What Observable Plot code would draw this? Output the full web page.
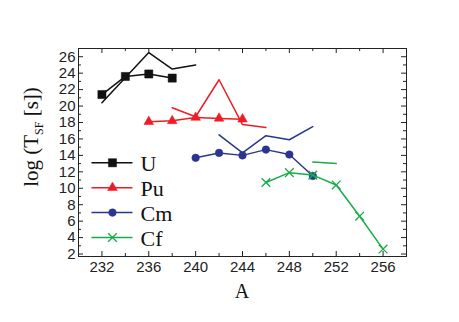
<!DOCTYPE html>
<html>
<head>
<meta charset="utf-8">
<script src="https://cdn.jsdelivr.net/npm/d3@7"></script>
<script src="https://cdn.jsdelivr.net/npm/@observablehq/plot@0.6"></script>
<style>
  html, body { margin: 0; padding: 0; background: white; }
</style>
</head>
<body>
<div id="chart"></div>
<script>
// ---- data ----
const seriesNames = ["U", "Pu", "Cm", "Cf"];
const seriesColors = ["#111111", "#ee1c24", "#2b3590", "#1aab4b"];
const seriesSymbols = ["square", "triangle", "circle", "times"];

// experimental points (with markers)
const U_A = [232, 234, 236, 238];
const U_exp = [21.4, 23.6, 23.9, 23.4];
const Pu_A = [236, 238, 240, 242, 244];
const Pu_exp = [18.1, 18.2, 18.6, 18.5, 18.4];
const Cm_A = [240, 242, 244, 246, 248, 250];
const Cm_exp = [13.7, 14.3, 14.0, 14.7, 14.1, 11.5];
const Cf_A = [246, 248, 250, 252, 254, 256];
const Cf_exp = [10.7, 11.9, 11.6, 10.4, 6.6, 2.6];

// calculated (plain lines)
const U_thA = [232, 236, 238, 240];
const U_th = [20.4, 26.5, 24.5, 25.0];
const Pu_thA = [238, 240, 242, 244, 246];
const Pu_th = [19.8, 18.7, 23.2, 17.75, 17.4];
const Cm_thA = [242, 244, 246, 248, 250];
const Cm_th = [16.5, 14.3, 16.4, 15.9, 17.5];
const Cf_thA = [250, 252];
const Cf_th = [13.2, 13.0];

const xTickLabels = [232, 236, 240, 244, 248, 252, 256];
const xMinor = [230, 234, 238, 242, 246, 250, 254, 258];
const yTickLabels = [2, 4, 6, 8, 10, 12, 14, 16, 18, 20, 22, 24, 26];
const yMinor = [3, 5, 7, 9, 11, 13, 15, 17, 19, 21, 23, 25, 27];

// ---- tables ----
function rows(As, vs, s) { return As.map((A, i) => ({A, v: vs[i], series: s})); }
const expSets = [rows(U_A, U_exp, "U"), rows(Pu_A, Pu_exp, "Pu"), rows(Cm_A, Cm_exp, "Cm"), rows(Cf_A, Cf_exp, "Cf")];
const thSets = [rows(U_thA, U_th, "U"), rows(Pu_thA, Pu_th, "Pu"), rows(Cm_thA, Cm_th, "Cm"), rows(Cf_thA, Cf_th, "Cf")];

// ---- layout ----
const W = 459, H = 322;
const mL = 78, mR = 53, mT = 48, mB = 66;
const pW = W - mL - mR, pH = H - mT - mB;
const xDomain = [230, 258], yDomain = [1.7, 27];

// legend (in data units inside the frame)
const legTop = 13.1, legStep = 3.03;
const legend = seriesNames.map((s, i) => ({series: s, y: legTop - i * legStep, x1: 231.15, x2: 234.65, xm: 232.9, xt: 235.3}));

const axisColor = "#222";
const marks = [
  Plot.frame({stroke: axisColor, strokeWidth: 1}),
  // ticks inward
  Plot.tickX(xTickLabels, {x: d => d, insetTop: pH - 5, stroke: axisColor}),
  Plot.tickX(xTickLabels, {x: d => d, insetBottom: pH - 5, stroke: axisColor}),
  Plot.tickX(xMinor, {x: d => d, insetTop: pH - 3, stroke: axisColor}),
  Plot.tickX(xMinor, {x: d => d, insetBottom: pH - 3, stroke: axisColor}),
  Plot.tickY(yTickLabels, {y: d => d, insetRight: pW - 5, stroke: axisColor}),
  Plot.tickY(yTickLabels, {y: d => d, insetLeft: pW - 5, stroke: axisColor}),
  Plot.tickY(yMinor.filter(d => d < 27), {y: d => d, insetRight: pW - 3, stroke: axisColor}),
  Plot.tickY(yMinor.filter(d => d < 27), {y: d => d, insetLeft: pW - 3, stroke: axisColor}),
  Plot.axisX({ticks: xTickLabels, tickSize: 0, tickPadding: 5, tickFormat: d => String(d), label: null, fontSize: 15, fill: "#222"}),
  Plot.axisY({ticks: yTickLabels, tickSize: 0, tickPadding: 3, tickFormat: d => String(d), label: null, fontSize: 15, fill: "#222"}),
];

seriesNames.forEach((s, i) => {
  const c = seriesColors[i];
  marks.push(Plot.line(thSets[i], {x: "A", y: "v", stroke: c, strokeWidth: 1.5}));
  marks.push(Plot.line(expSets[i], {x: "A", y: "v", stroke: c, strokeWidth: 1.5}));
  const isTimes = seriesSymbols[i] === "times";
  const r = {square: 4.6, triangle: 3.6, circle: 3.8, times: 4}[seriesSymbols[i]];
  marks.push(Plot.dot(expSets[i], {x: "A", y: "v", symbol: () => seriesSymbols[i], r,
    fill: isTimes ? "none" : c, stroke: c, strokeWidth: isTimes ? 1.3 : 0.5}));
  // legend
  const L = [legend[i]];
  marks.push(Plot.ruleY(L, {y: "y", x1: "x1", x2: "x2", stroke: c, strokeWidth: 1.5}));
  marks.push(Plot.dot(L, {x: "xm", y: "y", symbol: () => seriesSymbols[i], r,
    fill: isTimes ? "none" : c, stroke: c, strokeWidth: isTimes ? 1.3 : 0.5}));
  marks.push(Plot.text(L, {x: "xt", y: "y", text: "series", textAnchor: "start", fontSize: 22,
    fontFamily: "Liberation Serif", fill: "#111", dy: 1}));
});

const chart = Plot.plot({
  width: W, height: H,
  marginLeft: mL, marginRight: mR, marginTop: mT, marginBottom: mB,
  x: {domain: xDomain},
  y: {domain: yDomain},
  style: {fontFamily: "Liberation Sans", fontSize: "15px", background: "white", overflow: "visible"},
  marks
});

// axis titles
const svg = d3.select(chart);
svg.append("text")
  .attr("x", mL + pW / 2)
  .attr("y", 298)
  .attr("text-anchor", "middle")
  .attr("font-family", "Liberation Serif")
  .attr("font-size", 20)
  .attr("fill", "#111")
  .text("A");
const yl = svg.append("text")
  .attr("transform", "translate(38,137) rotate(-90)")
  .attr("text-anchor", "middle")
  .attr("font-family", "Liberation Serif")
  .attr("font-size", 21)
  .attr("fill", "#111");
yl.append("tspan").text("log (T");
yl.append("tspan").attr("font-size", 12).attr("dy", 5).text("SF");
yl.append("tspan").attr("dy", -5).text(" [s])");

document.getElementById("chart").appendChild(chart);
</script>
</body>
</html>
